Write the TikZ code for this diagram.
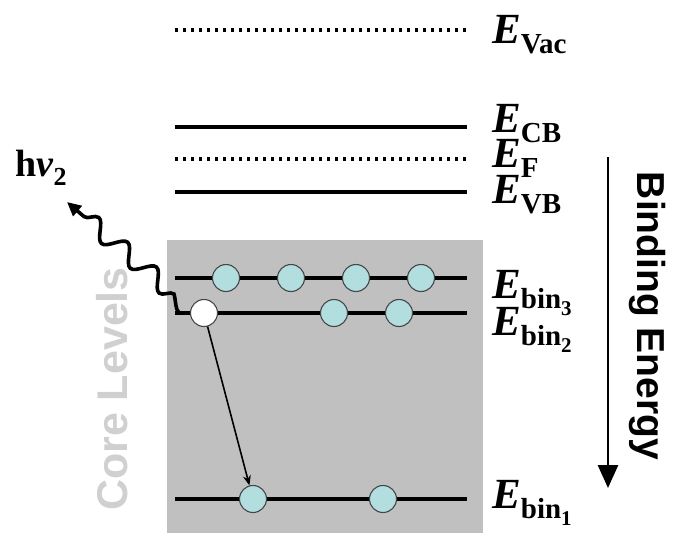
\documentclass[tikz,border=0pt]{standalone}
\usepackage{fontspec}
\setmainfont{Liberation Serif}
\newfontfamily\lsans{Liberation Sans}
\usetikzlibrary{arrows.meta,decorations.pathmorphing}
\definecolor{boxgray}{RGB}{192,192,192}
\definecolor{coregray}{RGB}{208,208,208}
\definecolor{elecblue}{RGB}{178,222,224}
\definecolor{rimgray}{RGB}{70,70,70}
\newcommand{\Elab}[1]{\fontsize{43}{43}\selectfont\textbf{\textit{E}}\raisebox{-10pt}{\fontsize{29}{29}\selectfont\bfseries #1}}
\newcommand{\Ebin}[1]{\Elab{bin\raisebox{-7pt}{\fontsize{21}{21}\selectfont #1}}}
\begin{document}
\begin{tikzpicture}[x=1pt,y=-1pt,
  level/.style={line width=3.8pt},
  dotlevel/.style={line width=3.8pt,dash pattern=on 3.4pt off 4.6pt},
  elec/.style={circle,draw=rimgray,line width=1.1pt,fill=elecblue,minimum size=27pt,inner sep=0pt},
  hole/.style={circle,draw=rimgray,line width=1.1pt,fill=white,minimum size=27pt,inner sep=0pt},
  elabel/.style={anchor=base west,inner sep=0pt}]
\useasboundingbox (0,0) rectangle (673,533);
% gray box
\fill[boxgray] (167,240) rectangle (483,533);
\node[rotate=90,anchor=base,inner sep=0pt,text=coregray,font={\lsans\bfseries\fontsize{43}{43}\selectfont}] (core) at (127,389) {Core Levels};
% levels
\coordinate (vacL) at (175,30); \coordinate (vacR) at (467,30);
\coordinate (cbL) at (175,127); \coordinate (cbR) at (467,127);
\coordinate (fL) at (175,159); \coordinate (fR) at (467,159);
\coordinate (vbL) at (175,192); \coordinate (vbR) at (467,192);
\coordinate (b3L) at (175,278); \coordinate (b3R) at (467,278);
\coordinate (b2L) at (175,313); \coordinate (b2R) at (467,313);
\coordinate (b1L) at (175,499); \coordinate (b1R) at (467,499);
\draw[dotlevel] (vacL) -- (vacR);
\draw[level] (cbL) -- (cbR);
\draw[dotlevel] (fL) -- (fR);
\draw[level] (vbL) -- (vbR);
\draw[level] (b3L) -- (b3R);
\draw[level] (b2L) -- (b2R);
\draw[level] (b1L) -- (b1R);
% electrons
\node[elec] (e31) at (226,278) {};
\node[elec] (e32) at (291,278) {};
\node[elec] (e33) at (356,278) {};
\node[elec] (e34) at (421,278) {};
\node[hole] (h21) at (204,313) {};
\node[elec] (e22) at (334,313) {};
\node[elec] (e23) at (399,313) {};
\node[elec] (e11) at (253,499) {};
\node[elec] (e12) at (383,499) {};
% transition arrow
\draw[line width=1.6pt,-{Stealth[length=10pt,width=8pt]}] (h21) -- (e11);
% photon
\coordinate (w1) at (181,313);
\coordinate (w2) at (174,294);
\coordinate (wend) at (67,202);
\draw[line width=3.6pt,-{Triangle[length=14pt,width=13pt]}] (h21.west) -- (w1) .. controls (175,313) and (176,300) .. (w2)
  decorate[decoration={snake,segment length=38pt,amplitude=9pt,post length=8pt}] {-- (wend)};
\node[anchor=base west,inner sep=0pt] (hnu) at (15,176) {\fontsize{38}{38}\selectfont\textbf{h}\textbf{\textit{ν}}\raisebox{-9pt}{\fontsize{26}{26}\selectfont\bfseries 2}};
% labels
\node[elabel] (lvac) at (492,43) {\Elab{Vac}};
\node[elabel] (lcb) at (492,132) {\Elab{CB}};
\node[elabel] (lf) at (492,167) {\Elab{F}};
\node[elabel] (lvb) at (492,203) {\Elab{VB}};
\node[elabel] (lb3) at (492,298) {\Ebin{3}};
\node[elabel] (lb2) at (492,335) {\Ebin{2}};
\node[elabel] (lb1) at (492,508) {\Ebin{1}};
% binding energy
\coordinate (btop) at (608,157);
\coordinate (bbot) at (608,488);
\draw[line width=2.8pt,-{Triangle[length=23pt,width=20pt]}] (btop) -- (bbot);
\node[rotate=-90,anchor=base,inner sep=0pt,font={\lsans\bfseries\fontsize{39}{39}\selectfont}] (be) at (637,316) {Binding Energy};
\end{tikzpicture}
\end{document}
